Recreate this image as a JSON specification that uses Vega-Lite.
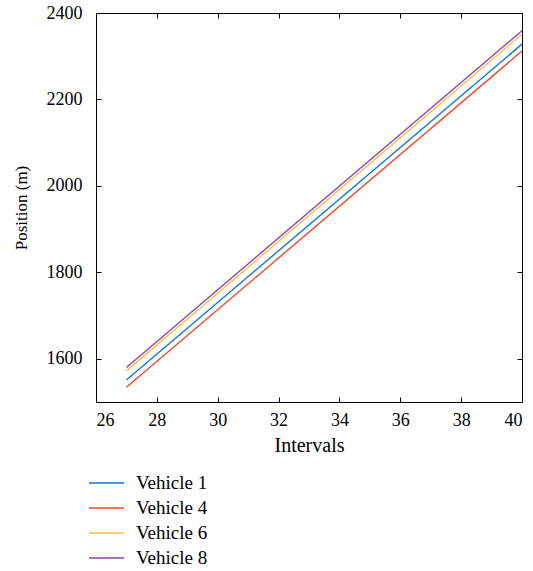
{
  "$schema": "https://vega.github.io/schema/vega-lite/v6.json",
  "width": 426,
  "height": 389,
  "autosize": {"type": "none"},
  "padding": {"left": 96, "top": 13, "right": 11, "bottom": 169},
  "background": "white",
  "config": {
    "font": "Liberation Serif",
    "view": {"stroke": "black", "strokeWidth": 1},
    "axis": {"grid": false, "domainColor": "black", "tickColor": "black", "labelColor": "black", "titleColor": "black", "labelFont": "Liberation Serif", "titleFont": "Liberation Serif", "labelFontSize": 18, "titleFontWeight": "normal", "tickSize": -5, "domain": false, "format": "d"}
  },
  "data": {"values": [
    {"x": 27.0, "y": 1551, "v": "Vehicle 1"},
    {"x": 40, "y": 2328, "v": "Vehicle 1"},
    {"x": 27.0, "y": 1534, "v": "Vehicle 4"},
    {"x": 40, "y": 2312, "v": "Vehicle 4"},
    {"x": 27.0, "y": 1572, "v": "Vehicle 6"},
    {"x": 40, "y": 2351, "v": "Vehicle 6"},
    {"x": 27.0, "y": 1580, "v": "Vehicle 8"},
    {"x": 40, "y": 2359, "v": "Vehicle 8"}
  ]},
  "layer": [
    {
      "mark": {"type": "line", "strokeWidth": 1.4},
      "encoding": {
        "x": {"field": "x", "type": "quantitative", "scale": {"domain": [26, 40], "nice": false}, "axis": {"values": [26, 28, 30, 32, 34, 36, 38, 40], "title": "Intervals", "titleFontSize": 20, "labelPadding": 14, "titlePadding": 6}},
        "y": {"field": "y", "type": "quantitative", "scale": {"domain": [1500, 2400], "nice": false, "zero": false}, "axis": {"values": [1600, 1800, 2000, 2200, 2400], "title": "Position (m)", "titleFontSize": 17, "labelPadding": 19, "titlePadding": 16}},
        "color": {"field": "v", "type": "nominal", "scale": {"domain": ["Vehicle 1", "Vehicle 4", "Vehicle 6", "Vehicle 8"], "range": ["#0f7bc9", "#ef4a2a", "#fcbf4a", "#8e44a8"]},
          "legend": {"title": null, "orient": "none", "legendX": -8, "legendY": 460, "symbolType": "stroke", "symbolSize": 1225, "symbolStrokeWidth": 1.4, "labelFont": "Liberation Serif", "labelFontSize": 19, "labelColor": "black", "rowPadding": 5, "clipHeight": 20, "labelOffset": 11}}
      }
    },
    {
      "mark": {"type": "line", "opacity": 0},
      "encoding": {
        "x": {"field": "x", "type": "quantitative", "axis": {"values": [26, 28, 30, 32, 34, 36, 38, 40], "labels": false, "title": null}},
        "y": {"field": "y", "type": "quantitative", "axis": {"values": [1600, 1800, 2000, 2200, 2400], "labels": false, "title": null}}
      }
    }
  ],
  "resolve": {"axis": {"x": "independent", "y": "independent"}}
}
